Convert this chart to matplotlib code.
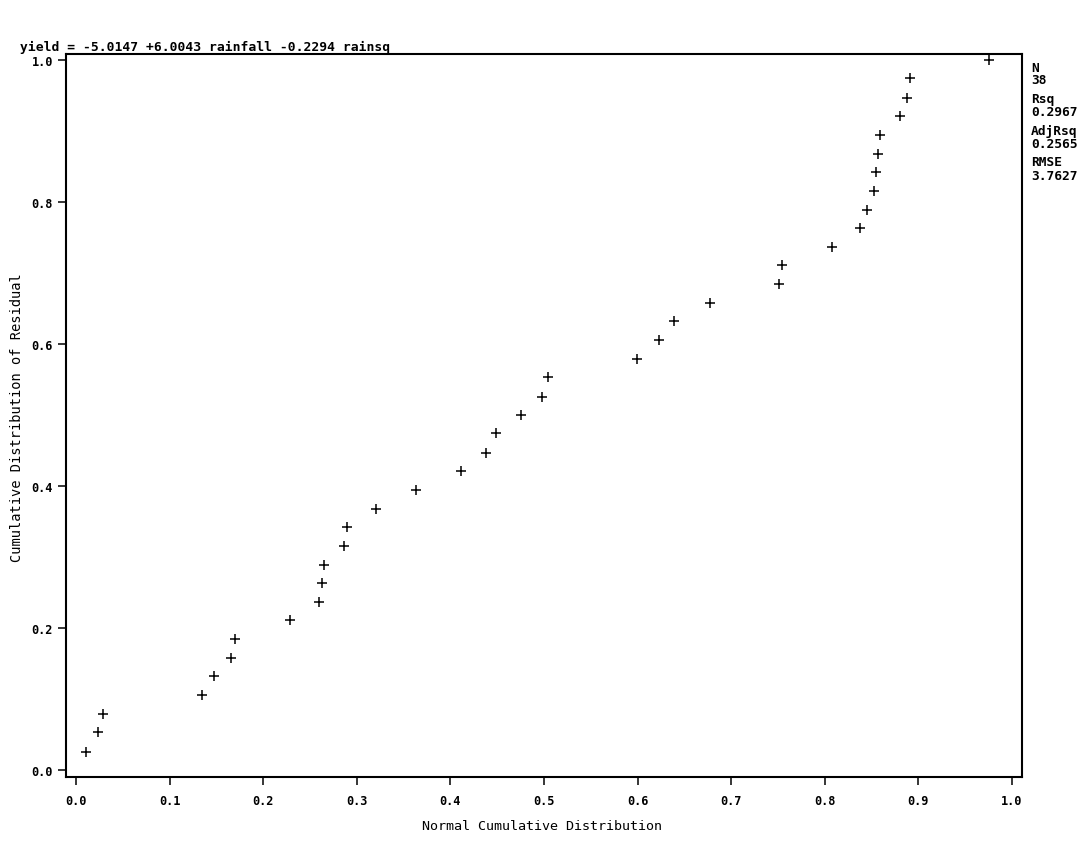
import matplotlib
matplotlib.use("Agg")
import matplotlib.pyplot as plt

# Normal cumulative distribution (x) vs cumulative distribution of residual (y)
normal_cdf = [0.011, 0.024, 0.029, 0.135, 0.147, 0.166, 0.170, 0.229, 0.260, 0.263,
              0.265, 0.286, 0.289, 0.321, 0.363, 0.411, 0.438, 0.449, 0.475, 0.498,
              0.504, 0.599, 0.623, 0.639, 0.677, 0.751, 0.754, 0.808, 0.838, 0.845,
              0.853, 0.855, 0.857, 0.859, 0.880, 0.888, 0.891, 0.975]
resid_cdf = [0.026, 0.053, 0.079, 0.105, 0.132, 0.158, 0.184, 0.211, 0.237, 0.263,
             0.289, 0.316, 0.342, 0.368, 0.395, 0.421, 0.447, 0.474, 0.500, 0.526,
             0.553, 0.579, 0.605, 0.632, 0.658, 0.684, 0.711, 0.737, 0.763, 0.789,
             0.816, 0.842, 0.868, 0.895, 0.921, 0.947, 0.974, 1.000]

ticks = [0.0, 0.1, 0.2, 0.3, 0.4, 0.5, 0.6, 0.7, 0.8, 0.9, 1.0]
yticks = [0.0, 0.2, 0.4, 0.6, 0.8, 1.0]

title = "yield = -5.0147 +6.0043 rainfall -0.2294 rainsq"
stats_labels = ["N", "Rsq", "AdjRsq", "RMSE"]
stats_values = ["38", "0.2967", "0.2565", "3.7627"]

W, H = 1088, 845
fig = plt.figure(figsize=(W / 100, H / 100), dpi=100)
ax = fig.add_axes([66 / W, 1 - 778 / H, (1022 - 66) / W, (778 - 55) / H])

ax.plot(normal_cdf, resid_cdf, linestyle="none", marker="+", color="black",
        markersize=7.5, markeredgewidth=1.1)

ax.set_xlim(-0.0107, 1.0107)
ax.set_ylim(-0.0099, 1.0085)
ax.set_xticks(ticks)
ax.set_xticklabels([f"{t:.1f}" for t in ticks])
ax.set_yticks(yticks)
ax.set_yticklabels([f"{t:.1f}" for t in yticks])

for s in ax.spines.values():
    s.set_linewidth(1.5)
    s.set_color("black")

ax.tick_params(axis="both", direction="out", length=6, width=1.1, color="black")
ax.tick_params(axis="x", pad=6)
ax.tick_params(axis="y", pad=3.5)
for lab in ax.get_xticklabels() + ax.get_yticklabels():
    lab.set_fontfamily("DejaVu Sans Mono")
    lab.set_fontweight("bold")
    lab.set_fontsize(8.6)

fig.text(20 / W, 1 - 51 / H, title, ha="left", va="baseline",
         fontsize=9.4, fontweight="bold", family="DejaVu Sans Mono")

fig.text(542 / W, 1 - 827 / H, "Normal Cumulative Distribution", ha="center", va="center",
         fontsize=9.6, family="DejaVu Sans Mono")
fig.text(17 / W, 1 - 418 / H, "Cumulative Distribution of Residual", ha="center", va="center",
         rotation=90, fontsize=9.9, family="DejaVu Sans Mono")

ys = [68, 100, 131, 163]
for lab, val, y in zip(stats_labels, stats_values, ys):
    fig.text(1031 / W, 1 - y / H, lab, ha="left", va="center", fontsize=9.3,
             fontweight="bold", family="DejaVu Sans Mono")
    fig.text(1031 / W, 1 - (y + 13) / H, val, ha="left", va="center", fontsize=9.3,
             fontweight="bold", family="DejaVu Sans Mono")

fig.savefig("out.png", dpi=100, facecolor="white")
